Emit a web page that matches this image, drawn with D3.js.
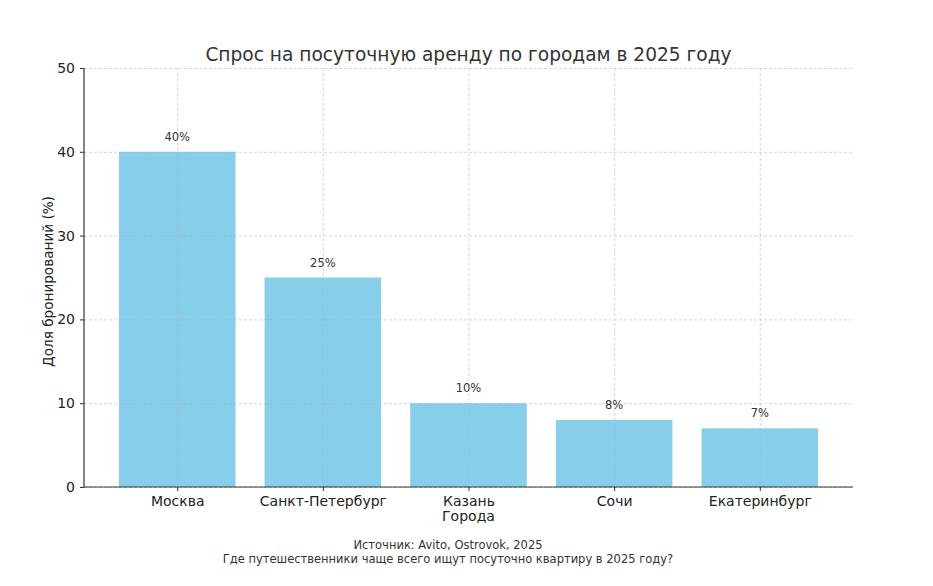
<!DOCTYPE html>
<html>
<head>
<meta charset="utf-8">
<script src="https://cdn.jsdelivr.net/npm/d3@7"></script>
<style>
  body { margin: 0; background: #fff; }
  svg, svg text { font-family: "DejaVu Sans", sans-serif; }
  .grid line { stroke: #b0b0b0; stroke-opacity: 0.5; stroke-dasharray: 3,2; }
  .grid path { display: none; }
</style>
</head>
<body>
<svg width="933" height="586"></svg>
<script>
const cities = ['Москва', 'Санкт-Петербург', 'Казань', 'Сочи', 'Екатеринбург']
const shares = [40, 25, 10, 8, 7]
const yTicks = [0, 10, 20, 30, 40, 50]

const svg = d3.select('svg')
const margin = { top: 68, right: 80, bottom: 99, left: 84 }
const width = 933 - margin.left - margin.right
const height = 586 - margin.top - margin.bottom

const g = svg.append('g').attr('transform', `translate(${margin.left},${margin.top})`)

// matplotlib style: bars 0.8 wide, 5% margins
const x = d3.scaleLinear().domain([-0.64, cities.length - 1 + 0.64]).range([0, width])
const y = d3.scaleLinear().domain([0, 50]).range([height, 0])
const barW = x(0.8) - x(0)

g.selectAll('.bar')
  .data(shares)
  .enter()
  .append('rect')
  .attr('class', 'bar')
  .attr('x', (d, i) => x(i - 0.4))
  .attr('width', barW)
  .attr('y', d => y(d))
  .attr('height', d => height - y(d))
  .attr('fill', '#87ceeb')

// grid on top
g.append('g').attr('class', 'grid')
  .call(d3.axisLeft(y).tickValues(yTicks).tickSize(-width).tickFormat(''))
g.append('g').attr('class', 'grid')
  .call(d3.axisBottom(x).tickValues(d3.range(cities.length)).tickSize(height).tickFormat(''))

const yAxis = g.append('g')
  .call(d3.axisLeft(y).tickValues(yTicks).tickSize(4).tickPadding(5))
const xAxis = g.append('g')
  .attr('transform', `translate(0,${height})`)
  .call(d3.axisBottom(x).tickValues(d3.range(cities.length)).tickSize(4).tickPadding(5).tickFormat(i => cities[i]))

;[yAxis, xAxis].forEach(a => {
  a.attr('font-family', 'DejaVu Sans').attr('font-size', 14)
  a.select('.domain').attr('stroke', '#333').attr('stroke-width', 1.2)
  a.selectAll('.tick line').attr('stroke', '#333')
  a.selectAll('.tick text').attr('fill', '#222')
})
xAxis.select('.domain').attr('d', `M0,0H${width}`)
yAxis.select('.domain').attr('d', `M0,${height}V0`)

g.selectAll('.label')
  .data(shares)
  .enter()
  .append('text')
  .attr('x', (d, i) => x(i))
  .attr('y', d => y(d) - 11)
  .attr('text-anchor', 'middle')
  .attr('fill', '#333')
  .attr('font-size', 11.5)
  .text(d => d + '%')

svg.append('text')
  .attr('x', margin.left + width / 2)
  .attr('y', 61)
  .attr('text-anchor', 'middle')
  .attr('fill', '#333')
  .attr('font-size', 18.6)
  .text('Спрос на посуточную аренду по городам в 2025 году')

svg.append('text')
  .attr('x', margin.left + width / 2)
  .attr('y', 521)
  .attr('text-anchor', 'middle')
  .attr('fill', '#222')
  .attr('font-size', 14)
  .text('Города')

svg.append('text')
  .attr('transform', `translate(53,${margin.top + height / 2 + 4}) rotate(-90)`)
  .attr('text-anchor', 'middle')
  .attr('fill', '#222')
  .attr('font-size', 13.6)
  .text('Доля бронирований (%)')

svg.append('text')
  .attr('x', 448)
  .attr('y', 549)
  .attr('text-anchor', 'middle')
  .attr('fill', '#333')
  .attr('font-size', 11.5)
  .text('Источник: Avito, Ostrovok, 2025')
svg.append('text')
  .attr('x', 448)
  .attr('y', 563)
  .attr('text-anchor', 'middle')
  .attr('fill', '#333')
  .attr('font-size', 11.5)
  .text('Где путешественники чаще всего ищут посуточно квартиру в 2025 году?')
</script>
</body>
</html>
